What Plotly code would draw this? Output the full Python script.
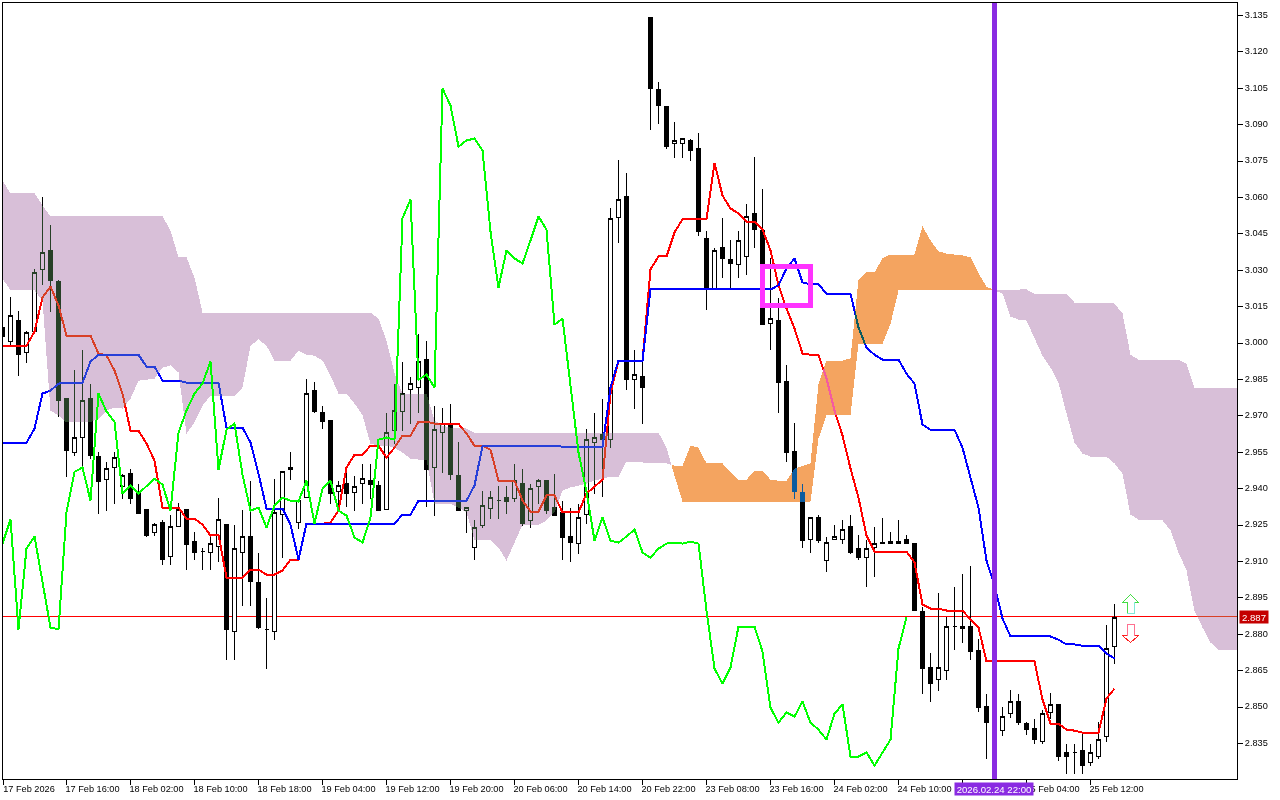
import plotly.graph_objects as go

# candle prices (bar index = position in list)
opens = [3.0064,3.0006,3.0093,2.9961,3.0047,3.0304,3.0382,3.0254,2.9771,2.9549,2.9611,2.9771,2.9532,2.9437,2.9487,2.9409,2.9462,2.9384,2.9314,2.9219,
2.9260,2.9120,2.9244,2.9314,2.9182,2.9141,2.9137,2.9161,2.9252,2.8811,2.9137,2.9203,2.9013,2.8820,2.8811,2.9293,2.9479,2.9260,2.9363,2.9804,
2.9714,2.9681,2.9388,2.9421,2.9384,2.9421,2.9433,2.9413,2.9314,2.9639,2.9718,2.9808,2.9817,2.9932,2.9487,2.9631,2.9664,2.9454,2.9310,2.9157,
2.9248,2.9318,2.9351,2.9363,2.9359,2.9421,2.9269,2.9409,2.9433,2.9322,2.9302,2.9203,2.9174,2.9293,2.9590,2.9623,2.9602,3.0518,3.0604,2.9849,
2.9862,3.1342,3.1045,3.0975,3.0823,3.0823,3.0835,3.0802,3.0431,3.0225,3.0394,3.0345,3.0324,3.0357,3.0534,3.0464,3.0080,3.0093,2.9841,2.9553,
2.9384,2.9190,2.9281,2.9104,2.9190,2.9190,2.9244,2.9153,2.9116,2.9157,2.9174,2.9182,2.9174,2.9190,2.9174,2.8894,2.8663,2.8613,2.8651,2.8832,
2.8824,2.8832,2.8733,2.8502,2.8436,2.8403,2.8473,2.8523,2.8432,2.8412,2.8358,2.8478,2.8511,2.8313,2.8313,2.8321,2.8272,2.8296,2.8379,2.8749]
highs = [3.0072,3.0192,3.0134,3.0051,3.0304,3.0604,3.0485,3.0262,2.9771,2.9891,2.9973,2.9833,2.9553,2.9512,2.9553,2.9462,2.9483,2.9421,2.9314,2.9260,
2.9273,2.9293,2.9343,2.9314,2.9223,2.9157,2.9207,2.9363,2.9252,2.9252,2.9314,2.9433,2.9133,2.8951,2.9441,2.9470,2.9553,2.9359,2.9854,2.9841,
2.9742,2.9681,2.9433,2.9487,2.9454,2.9503,2.9503,2.9433,2.9714,2.9833,2.9924,2.9862,3.0039,3.0010,2.9742,2.9734,2.9751,2.9594,2.9322,2.9273,
2.9392,2.9392,2.9413,2.9413,2.9503,2.9483,2.9421,2.9441,2.9433,2.9462,2.9351,2.9322,2.9339,2.9648,2.9714,2.9771,3.0555,3.0753,3.0703,2.9973,
2.9928,3.1342,3.1074,3.0975,3.0913,3.0843,3.0843,3.0864,3.0464,3.0390,3.0514,3.0423,3.0464,3.0572,3.0765,3.0633,3.0349,3.0184,2.9911,2.9672,
2.9421,2.9281,2.9293,2.9203,2.9252,2.9273,2.9293,2.9211,2.9190,2.9244,2.9281,2.9223,2.9273,2.9211,2.9174,2.8914,2.8721,2.8972,2.8873,2.8993,
2.9050,2.9083,2.8782,2.8552,2.8527,2.8502,2.8572,2.8552,2.8440,2.8453,2.8490,2.8560,2.8511,2.8350,2.8350,2.8395,2.8350,2.8440,2.8840,2.8923]
lows = [3.0018,2.9989,2.9866,2.9920,3.0043,3.0238,3.0130,2.9697,2.9450,2.9536,2.9487,2.9524,2.9297,2.9310,2.9339,2.9359,2.9339,2.9297,2.9199,2.9207,
2.9087,2.9087,2.9244,2.9067,2.9108,2.9067,2.9067,2.9100,2.8696,2.8696,2.8918,2.8918,2.8820,2.8659,2.8778,2.9116,2.9437,2.9232,2.9363,2.9714,
2.9648,2.9339,2.9326,2.9326,2.9310,2.9339,2.9359,2.9310,2.9314,2.9586,2.9639,2.9668,2.9714,2.9326,2.9289,2.9466,2.9437,2.9310,2.9219,2.9108,
2.9240,2.9277,2.9277,2.9297,2.9347,2.9248,2.9240,2.9339,2.9297,2.9289,2.9108,2.9100,2.9129,2.9256,2.9380,2.9367,2.9569,3.0411,2.9808,2.9730,
2.9668,3.0880,3.0901,3.0798,3.0761,3.0761,3.0749,3.0440,3.0138,3.0221,3.0270,3.0221,3.0270,3.0279,3.0390,3.0076,2.9973,2.9710,2.9508,2.9359,
2.9157,2.9137,2.9178,2.9058,2.9190,2.9174,2.9129,2.9108,2.8993,2.9038,2.9174,2.9174,2.9174,2.9174,2.8898,2.8556,2.8519,2.8568,2.8613,2.8737,
2.8766,2.8696,2.8478,2.8288,2.8412,2.8379,2.8457,2.8428,2.8387,2.8346,2.8346,2.8449,2.8276,2.8226,2.8226,2.8226,2.8259,2.8288,2.8358,2.8679]
closes = [3.0027,3.0113,2.9952,3.0043,3.0291,3.0374,3.0258,2.9763,2.9557,2.9611,2.9763,2.9536,2.9429,2.9483,2.9528,2.9454,2.9359,2.9297,2.9207,2.9252,
2.9108,2.9244,2.9314,2.9170,2.9137,2.9141,2.9174,2.9273,2.8820,2.9153,2.9203,2.9017,2.8828,2.8820,2.9302,2.9470,2.9487,2.9351,2.9792,2.9718,
2.9676,2.9380,2.9413,2.9380,2.9409,2.9441,2.9417,2.9310,2.9631,2.9722,2.9792,2.9833,2.9924,2.9479,2.9643,2.9668,2.9458,2.9310,2.9322,2.9240,
2.9330,2.9363,2.9351,2.9347,2.9433,2.9256,2.9400,2.9433,2.9310,2.9289,2.9199,2.9178,2.9281,2.9602,2.9611,2.9602,3.0514,3.0592,2.9849,2.9870,
2.9817,3.1049,3.0979,3.0810,3.0835,3.0843,3.0794,3.0460,3.0229,3.0382,3.0349,3.0328,3.0423,3.0522,3.0468,3.0076,3.0101,2.9837,2.9549,2.9388,
2.9186,2.9281,2.9186,2.9178,2.9203,2.9232,2.9137,2.9116,2.9153,2.9174,2.9178,2.9174,2.9182,2.9174,2.8898,2.8659,2.8597,2.8663,2.8832,2.8832,
2.8832,2.8729,2.8498,2.8436,2.8478,2.8461,2.8523,2.8436,2.8407,2.8366,2.8473,2.8511,2.8296,2.8296,2.8313,2.8259,2.8313,2.8366,2.8741,2.8870]

tenkan = [2.9989,2.9989,2.9989,2.9989,3.0047,3.0188,3.0233,3.0155,3.0031,3.0031,3.0031,3.0031,2.9957,2.9949,2.9887,2.9792,2.9639,2.9639,2.9586,2.9516,
2.9322,2.9322,2.9322,2.9277,2.9277,2.9252,2.9207,2.9211,2.9034,2.9034,2.9034,2.9067,2.9067,2.9046,2.9046,2.9063,2.9108,2.9108,2.9256,2.9256,
2.9256,2.9260,2.9310,2.9487,2.9540,2.9540,2.9577,2.9577,2.9528,2.9569,2.9619,2.9619,2.9676,2.9676,2.9668,2.9668,2.9668,2.9668,2.9627,2.9577,
2.9577,2.9561,2.9433,2.9433,2.9433,2.9351,2.9306,2.9306,2.9372,2.9372,2.9302,2.9302,2.9302,2.9380,2.9409,2.9437,2.9792,2.9928,2.9928,2.9928,
2.9928,3.0304,3.0357,3.0357,3.0456,3.0510,3.0510,3.0510,3.0510,3.0742,3.0608,3.0555,3.0534,3.0501,3.0501,3.0468,3.0382,3.0238,3.0142,3.0060,
2.9957,2.9952,2.9952,2.9854,2.9722,2.9619,2.9483,2.9363,2.9207,2.9141,2.9141,2.9141,2.9141,2.9141,2.9096,2.8923,2.8906,2.8906,2.8898,2.8898,
2.8898,2.8861,2.8828,2.8688,2.8688,2.8688,2.8688,2.8688,2.8688,2.8688,2.8531,2.8432,2.8432,2.8407,2.8403,2.8395,2.8395,2.8395,2.8535,2.8576]
kijun = [2.9590,2.9590,2.9590,2.9590,2.9648,2.9792,2.9804,2.9833,2.9837,2.9837,2.9837,2.9924,2.9952,2.9952,2.9952,2.9952,2.9952,2.9952,2.9903,2.9903,
2.9845,2.9845,2.9845,2.9837,2.9837,2.9837,2.9837,2.9837,2.9652,2.9652,2.9652,2.9590,2.9462,2.9318,2.9318,2.9318,2.9252,2.9108,2.9256,2.9256,
2.9256,2.9256,2.9256,2.9256,2.9256,2.9256,2.9256,2.9256,2.9256,2.9256,2.9293,2.9293,2.9351,2.9351,2.9351,2.9351,2.9351,2.9351,2.9351,2.9413,
2.9577,2.9577,2.9577,2.9577,2.9577,2.9577,2.9577,2.9577,2.9577,2.9577,2.9573,2.9573,2.9573,2.9573,2.9573,2.9573,2.9817,2.9928,2.9928,2.9928,
2.9928,3.0221,3.0221,3.0221,3.0221,3.0221,3.0221,3.0221,3.0221,3.0221,3.0221,3.0221,3.0221,3.0221,3.0221,3.0221,3.0221,3.0238,3.0308,3.0349,
3.0250,3.0242,3.0242,3.0204,3.0204,3.0204,3.0204,3.0064,2.9981,2.9952,2.9932,2.9932,2.9932,2.9874,2.9833,2.9664,2.9643,2.9643,2.9643,2.9643,
2.9569,2.9446,2.9322,2.9104,2.9001,2.8865,2.8791,2.8791,2.8791,2.8791,2.8791,2.8791,2.8778,2.8758,2.8758,2.8753,2.8753,2.8753,2.8721,2.8700]
chikou = [2.9174,2.9273,2.8820,2.9153,2.9203,2.9017,2.8828,2.8820,2.9302,2.9470,2.9487,2.9351,2.9792,2.9718,
2.9676,2.9380,2.9413,2.9380,2.9409,2.9441,2.9417,2.9310,2.9631,2.9722,2.9792,2.9833,2.9924,2.9479,2.9643,2.9668,2.9458,2.9310,2.9322,2.9240,
2.9330,2.9363,2.9351,2.9347,2.9433,2.9256,2.9400,2.9433,2.9310,2.9289,2.9199,2.9178,2.9281,2.9602,2.9611,2.9602,3.0514,3.0592,2.9849,2.9870,
2.9817,3.1049,3.0979,3.0810,3.0835,3.0843,3.0794,3.0460,3.0229,3.0382,3.0349,3.0328,3.0423,3.0522,3.0468,3.0076,3.0101,2.9837,2.9549,2.9388,
2.9186,2.9281,2.9186,2.9178,2.9203,2.9232,2.9137,2.9116,2.9153,2.9174,2.9178,2.9174,2.9182,2.9174,2.8898,2.8659,2.8597,2.8663,2.8832,2.8832,
2.8832,2.8729,2.8498,2.8436,2.8478,2.8461,2.8523,2.8436,2.8407,2.8366,2.8473,2.8511,2.8296,2.8296,2.8313,2.8259,2.8313,2.8366,2.8741,2.8870]

span_a = [3.0266,3.0217,3.0217,3.0217,3.0217,3.0175,2.9722,2.9702,2.9673,2.9673,2.9673,2.9673,2.9689,2.9722,2.9734,2.9730,2.9771,2.9845,2.9849,2.9854,
2.9899,2.9908,2.9879,2.9627,2.9673,2.9742,2.9784,2.9784,2.9784,2.9784,2.9817,2.9989,3.0015,2.9989,2.9928,2.9928,2.9928,2.9969,2.9952,2.9948,
2.9928,2.9866,2.9792,2.9792,2.9751,2.9702,2.9586,2.9577,2.9577,2.9569,2.9549,2.9524,2.9520,2.9520,2.9339,2.9339,2.9339,2.9322,2.9302,2.9187,
2.9187,2.9187,2.9157,2.9104,2.9178,2.9252,2.9252,2.9252,2.9269,2.9302,2.9392,2.9405,2.9413,2.9421,2.9433,2.9441,2.9450,2.9450,2.9512,2.9512,
2.9508,2.9504,2.9504,2.9504,2.9495,2.9495,2.9577,2.9569,2.9504,2.9504,2.9504,2.9467,2.9437,2.9437,2.9475,2.9475,2.9437,2.9433,2.9433,2.9483,
2.9495,2.9504,2.9833,2.9928,2.9928,2.9928,2.9937,3.0262,3.0291,3.0291,3.0349,3.0365,3.0365,3.0365,3.0365,3.0481,3.0423,3.0378,3.0369,3.0365,
3.0361,3.0353,3.0287,3.0233,3.0217,3.0204,3.0109,3.0097,3.0093,3.0018,2.9948,2.9899,2.9837,2.9710,2.9590,2.9545,2.9532,2.9532,2.9532,2.9504,
2.9462,2.9293,2.9273,2.9273,2.9269,2.9269,2.9228,2.9137,2.9063,2.8898,2.8828,2.8766,2.8737,2.8737,2.8737,2.8737]
span_b = [3.0670,3.0617,3.0617,3.0617,3.0617,3.0567,3.0522,3.0522,3.0522,3.0522,3.0522,3.0522,3.0522,3.0522,3.0522,3.0522,3.0522,3.0522,3.0522,3.0522,
3.0522,3.0464,3.0353,3.0353,3.0270,3.0126,3.0126,3.0126,3.0126,3.0126,3.0126,3.0126,3.0126,3.0126,3.0126,3.0126,3.0126,3.0126,3.0126,3.0126,
3.0126,3.0126,3.0126,3.0126,3.0126,3.0126,3.0126,3.0101,3.0010,2.9875,2.9792,2.9792,2.9792,2.9792,2.9681,2.9660,2.9652,2.9652,2.9648,2.9631,
2.9631,2.9631,2.9631,2.9631,2.9631,2.9631,2.9631,2.9631,2.9631,2.9631,2.9631,2.9631,2.9631,2.9631,2.9631,2.9631,2.9631,2.9631,2.9631,2.9631,
2.9631,2.9631,2.9631,2.9569,2.9454,2.9347,2.9347,2.9347,2.9347,2.9347,2.9347,2.9347,2.9347,2.9347,2.9347,2.9347,2.9347,2.9347,2.9347,2.9347,
2.9347,2.9347,2.9607,2.9702,2.9702,2.9702,2.9702,2.9998,2.9998,2.9998,2.9998,3.0080,3.0217,3.0217,3.0217,3.0217,3.0217,3.0217,3.0217,3.0217,
3.0217,3.0217,3.0217,3.0217,3.0221,3.0221,3.0221,3.0221,3.0221,3.0204,3.0204,3.0204,3.0204,3.0204,3.0167,3.0167,3.0167,3.0167,3.0167,3.0163,
3.0122,2.9952,2.9932,2.9932,2.9932,2.9932,2.9932,2.9932,2.9915,2.9817,2.9817,2.9817,2.9817,2.9817,2.9817,2.9817]

time_ticks = ["17 Feb 2026","17 Feb 16:00","18 Feb 02:00","18 Feb 10:00","18 Feb 18:00","19 Feb 04:00","19 Feb 12:00","19 Feb 20:00","20 Feb 06:00",
"20 Feb 14:00","20 Feb 22:00","23 Feb 08:00","23 Feb 16:00","24 Feb 02:00","24 Feb 10:00","","25 Feb 04:00","25 Feb 12:00"]
time_tick_bars = [0.0625,8,16,24,32,40,48,56,64,72,80,88,96,104,112,120,128,136]
last_price = 2.88733
marked_bar = 124
marked_label = "2026.02.24 22:00"
box_bars = [95, 101]
box_prices = [3.0157, 3.0314]
arrow_bar = 141
arrow_up_price = 2.8923
arrow_down_price = 2.8803

FONT = dict(family="Liberation Sans", size=9.2, color="#000000")
THISTLE, SANDY = "#D8BFD8", "#F4A460"

bars = list(range(len(closes)))
fig = go.Figure()
fig.add_trace(go.Candlestick(x=bars, open=opens, high=highs, low=lows, close=closes,
    increasing=dict(line=dict(color="#000000", width=1), fillcolor="#FFFFFF"),
    decreasing=dict(line=dict(color="#000000", width=1), fillcolor="#000000"),
    whiskerwidth=0, hoverinfo="skip"))
fig.add_trace(go.Scatter(x=bars, y=tenkan, mode="lines", line=dict(color="#FF0000", width=2), hoverinfo="skip"))
fig.add_trace(go.Scatter(x=bars, y=kijun, mode="lines", line=dict(color="#0000FF", width=2), hoverinfo="skip"))

# cloud polygons: one run per sign of (span A - span B), split where the spans cross
runs, cur = [], None
for i in range(len(span_a)):
    sign = span_a[i] > span_b[i]
    if cur is not None and cur["s"] != sign:
        d0 = span_a[i-1] - span_b[i-1]
        d1 = span_a[i] - span_b[i]
        t = d0 / (d0 - d1)
        xc, yc = i - 1 + t, span_a[i-1] + t * (span_a[i] - span_a[i-1])
        cur["x"].append(xc); cur["a"].append(yc); cur["b"].append(yc)
        runs.append(cur)
        cur = dict(s=sign, x=[xc], a=[yc], b=[yc])
    if cur is None:
        cur = dict(s=sign, x=[], a=[], b=[])
    cur["x"].append(i); cur["a"].append(span_a[i]); cur["b"].append(span_b[i])
runs.append(cur)
for r in runs:
    fig.add_trace(go.Scatter(x=r["x"] + r["x"][::-1], y=r["a"] + r["b"][::-1], mode="lines", fill="toself",
        fillcolor=SANDY if r["s"] else THISTLE, line=dict(width=0, color="rgba(0,0,0,0)"), hoverinfo="skip"))

fig.add_trace(go.Scatter(x=bars[:len(chikou)], y=chikou, mode="lines", line=dict(color="#00FF00", width=2), hoverinfo="skip"))

shapes = [
    dict(type="line", xref="paper", x0=0, x1=1, yref="y", y0=last_price, y1=last_price,
         line=dict(color="#FF0000", width=1), layer="below"),
    dict(type="line", xref="x", x0=marked_bar, x1=marked_bar, yref="paper", y0=0, y1=1,
         line=dict(color="#8A2BE2", width=5), layer="above"),
    dict(type="rect", xref="x", x0=box_bars[0], x1=box_bars[1], yref="y", y0=box_prices[0], y1=box_prices[1],
         line=dict(color="#FF33FF", width=5), fillcolor="rgba(0,0,0,0)", layer="above"),
]
def arrow(anchor, outline, accent, path, accent_path):
    for p, col in ((path, outline), (accent_path, accent)):
        shapes.append(dict(type="path", xref="x", yref="y", xsizemode="pixel", ysizemode="pixel",
            xanchor=arrow_bar, yanchor=anchor, path=p, line=dict(color=col, width=1),
            fillcolor="#FFFFFF" if p == path else "rgba(0,0,0,0)", layer="above"))
arrow(arrow_up_price, "#44DD44", "#80E8D8",
      "M 0 10 L 8 2 L 3.5 2 L 3.5 -9 L -3.5 -9 L -3.5 2 L -8 2 Z", "M 3.5 2 L 3.5 -9 L -3.5 -9")
arrow(arrow_down_price, "#FF2020", "#FF7090",
      "M -3.5 9.5 L 3.5 9.5 L 3.5 -2 L 8 -2 L 0 -9 L -8 -2 L -3.5 -2 Z", "M -3.5 -2 L -3.5 9.5 L 3.5 9.5 L 3.5 -2")

annotations = [
    dict(xref="x", x=marked_bar, yref="paper", y=0, yanchor="top", xanchor="center", xshift=-1, yshift=-3, text=marked_label,
         showarrow=False, bgcolor="#8A2BE2", font=dict(family="Liberation Sans", size=9.6, color="#FFFFFF"),
         width=78, height=12, borderpad=0),
    dict(xref="paper", x=1, xanchor="left", xshift=2, yref="y", y=last_price, yanchor="middle", text=f"{last_price:.3f}",
         showarrow=False, bgcolor="#C40000", font=dict(family="Liberation Sans", size=9.6, color="#FFFFFF"),
         width=28, height=12, borderpad=0),
]

fig.update_layout(
    width=1280, height=800, margin=dict(l=3, r=43, t=3, b=21, pad=0, autoexpand=False),
    paper_bgcolor="#FFFFFF", plot_bgcolor="#FFFFFF", showlegend=False, hovermode=False,
    shapes=shapes, annotations=annotations, boxgap=0.5, boxgroupgap=0,
    xaxis=dict(range=[0.0625, 154.3125], tickmode="array", tickvals=time_tick_bars, ticktext=time_ticks,
               ticks="outside", ticklen=5, tickwidth=1, tickcolor="#000000", ticklabelshift=26, ticklabelstandoff=-4, tickangle=0,
               showline=True, linecolor="#000000", linewidth=1, mirror=True, showgrid=False, zeroline=False,
               rangeslider=dict(visible=False), tickfont=FONT, fixedrange=True),
    yaxis=dict(range=[2.82037, 3.14015], side="right", tick0=2.835, dtick=0.015, tickformat=".3f",
               ticks="outside", ticklen=5, tickwidth=1, tickcolor="#000000", ticklabelshift=-1,
               showline=True, linecolor="#000000", linewidth=1, mirror=True, showgrid=False, zeroline=False,
               tickfont=FONT, fixedrange=True),
)

post = """
document.body.style.margin='0';document.documentElement.style.overflow='hidden';
var box=document.querySelector('.boxlayer');
var plot=box?box.parentNode:null;
var clip=plot?plot.getAttribute('clip-path'):null;
if(plot){plot.removeAttribute('clip-path');
 var inv={'rgb(216, 191, 216)':'#274027','rgb(244, 164, 96)':'#0B5B9F'};
 plot.querySelectorAll('.boxlayer .trace, .scatterlayer .js-line').forEach(function(e){if(clip)e.setAttribute('clip-path',clip);});
 plot.querySelectorAll('.js-fill').forEach(function(p){if(clip)p.setAttribute('clip-path',clip);
   var c=p.style.fill;if(inv[c]){p.style.fill=inv[c];p.style.mixBlendMode='difference';}});
 plot.querySelectorAll('.boxlayer path, .js-line, .js-fill').forEach(function(p){p.style.shapeRendering='crispEdges';});
 document.querySelectorAll('.layer-above .shapelayer path').forEach(function(p){p.style.shapeRendering='crispEdges';});
}
"""
fig.write_html("out.html", config=dict(displayModeBar=False, staticPlot=True), post_script=post)
